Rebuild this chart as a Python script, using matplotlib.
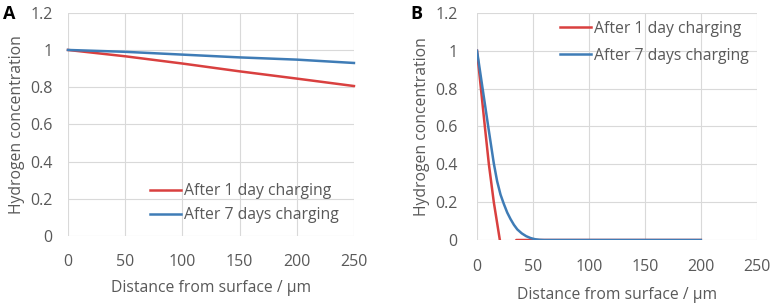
import numpy as np
import matplotlib
matplotlib.use("Agg")
import matplotlib.pyplot as plt

plt.rcParams['font.family'] = ['Open Sans', 'DejaVu Sans']

# Panel A: near-surface profiles over 250 um
dist_a = [0, 50, 100, 150, 200, 250]
day1_a = [1.0, 0.966, 0.927, 0.885, 0.846, 0.806]
day7_a = [1.0, 0.990, 0.975, 0.960, 0.948, 0.930]

# Panel B
dist_b1 = [0, 3.5, 7, 10.6, 15, 20.4, 23, 28, 33, 35.2, 50, 100, 150, 200]
day1_b = [1.0, 0.8, 0.6, 0.4, 0.2, 0.0, -0.03, -0.04, -0.02, 0.0, 0.0, 0.0, 0.0, 0.0]
dist_b7 = [0, 5, 10, 15, 18, 21, 24, 27, 30, 33, 36, 40, 44, 48, 52, 56, 60, 70, 200]
day7_b = [1.0, 0.80, 0.60, 0.405, 0.31, 0.24, 0.19, 0.145, 0.11, 0.08, 0.056,
          0.035, 0.02, 0.01, 0.004, 0.001, 0.0, 0.0, 0.0]

red = '#d9403f'
blue = '#3f7cb6'
grey = '#595959'
grid = '#d9d9d9'

fig = plt.figure(figsize=(7.75, 3.04), dpi=100)
ax_a = fig.add_axes([0.0877, 0.224, 0.369, 0.734])
ax_b = fig.add_axes([0.6155, 0.2105, 0.361, 0.747])


def style(ax, ypad, xpad, xlpad):
    ax.set_xlim(0, 250)
    ax.set_ylim(0, 1.2)
    ax.set_xticks([0, 50, 100, 150, 200, 250])
    ax.set_yticks([0, 0.2, 0.4, 0.6, 0.8, 1.0, 1.2])
    ax.set_yticklabels(['0', '0.2', '0.4', '0.6', '0.8', '1', '1.2'])
    for s in ax.spines.values():
        s.set_visible(False)
    ax.grid(True, color=grid, linewidth=0.8)
    ax.set_axisbelow(True)
    ax.tick_params(length=0, labelsize=11.5, colors=grey)
    ax.tick_params(axis='y', pad=ypad)
    ax.tick_params(axis='x', pad=xpad)
    ax.set_xlabel('Distance from surface / μm', fontsize=11.3, color=grey, labelpad=xlpad)
    ax.set_ylabel('Hydrogen concentration', fontsize=11.3, color=grey, labelpad=4)


def legend(ax, anchor, spacing):
    leg = ax.legend(loc='upper left', bbox_to_anchor=anchor, frameon=False,
                    fontsize=11.3, handlelength=2.0, handletextpad=0.15,
                    labelspacing=spacing, borderpad=0, borderaxespad=0)
    for t in leg.get_texts():
        t.set_color(grey)


ax_a.plot(dist_a, day1_a, color=red, lw=1.8, label='After 1 day charging', clip_on=False)
ax_a.plot(dist_a, day7_a, color=blue, lw=1.8, label='After 7 days charging', clip_on=False)
style(ax_a, 11, 13, 7)
legend(ax_a, (0.287, 0.235), 0.5)

ax_b.plot(dist_b1, day1_b, color=red, lw=1.8, label='After 1 day charging')
ax_b.plot(dist_b7, day7_b, color=blue, lw=1.8, label='After 7 days charging')
style(ax_b, 14, 14, 8)
legend(ax_b, (0.296, 0.966), 0.7)

fig.text(0.004, 0.955, 'A', fontsize=13, fontweight='bold', va='center', ha='left')
fig.text(0.530, 0.955, 'B', fontsize=13, fontweight='bold', va='center', ha='left')

fig.savefig('out.png', dpi=100)
